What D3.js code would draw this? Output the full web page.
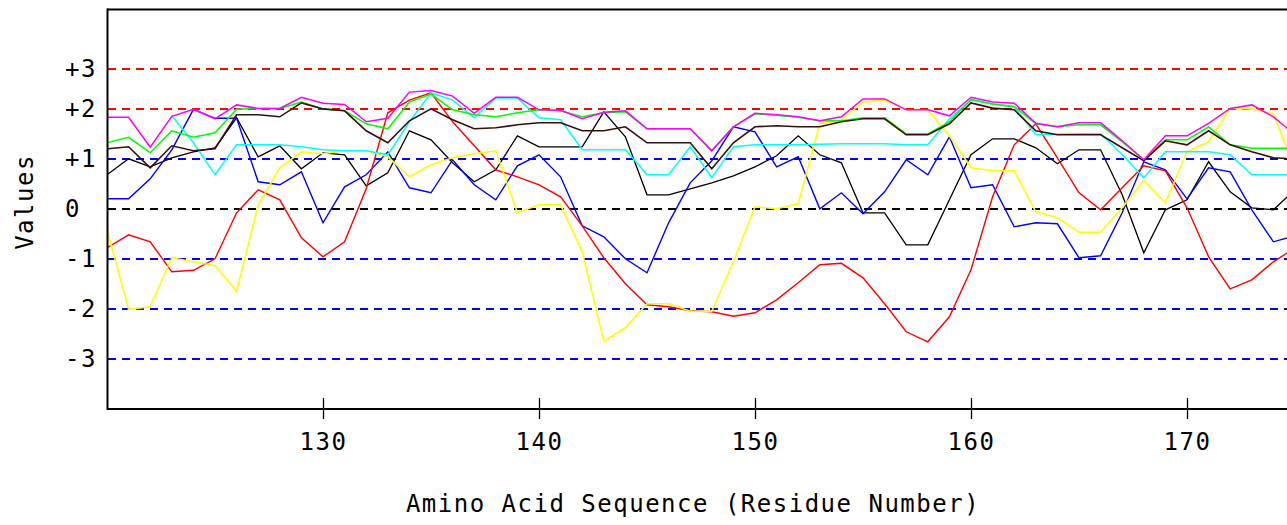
<!DOCTYPE html>
<html><head><meta charset="utf-8">
<script src="https://cdn.jsdelivr.net/npm/d3@7"></script>
<style>html,body{margin:0;padding:0;background:#fff;overflow:hidden}</style>
</head><body><svg id="c" width="1287" height="525"></svg>
<script>
const residues = [120,121,122,123,124,125,126,127,128,129,130,131,132,133,134,135,136,137,138,139,140,141,142,143,144,145,146,147,148,149,150,151,152,153,154,155,156,157,158,159,160,161,162,163,164,165,166,167,168,169,170,171,172,173,174,175];
const xTicks = [130,140,150,160,170];
const gridLevels = [3,2,1,0,-1,-2,-3];
const gridLabels = ["+3","+2","+1","0","-1","-2","-3"];

const red = [-0.77,-0.51,-0.65,-1.25,-1.22,-0.99,-0.07,0.39,0.19,-0.57,-0.95,-0.65,0.41,1.93,2.23,2.41,1.75,1.27,0.79,0.65,0.49,0.25,-0.33,-0.97,-1.49,-1.91,-1.95,-2.03,-2.05,-2.14,-2.07,-1.81,-1.47,-1.11,-1.08,-1.37,-1.89,-2.45,-2.65,-2.15,-1.21,0.25,1.29,1.71,1.03,0.33,-0.01,0.43,0.87,0.77,0.03,-0.95,-1.59,-1.41,-1.05,-0.77];
const yellow = [-0.41,-2.00,-1.95,-0.97,-1.05,-1.13,-1.64,0.09,0.83,1.15,1.11,1.17,1.17,1.05,0.65,0.89,1.03,1.11,1.17,-0.07,0.09,0.09,-0.85,-2.64,-2.37,-1.89,-1.89,-2.04,-2.04,-1.05,0.05,0.01,0.11,1.71,1.79,2.18,2.23,1.99,1.99,1.47,0.83,0.77,0.77,-0.05,-0.17,-0.46,-0.46,0.03,0.57,0.13,1.15,1.35,2.03,2.01,1.91,0.79];
const blue = [0.21,0.21,0.61,1.19,2.0,1.82,1.82,0.55,0.49,0.75,-0.27,0.45,0.69,1.15,0.43,0.33,0.99,0.49,0.19,0.87,1.09,0.65,-0.33,-0.55,-0.99,-1.27,-0.27,0.53,0.97,1.65,1.55,0.85,1.05,0.01,0.33,-0.09,0.35,0.99,0.69,1.45,0.43,0.49,-0.35,-0.27,-0.29,-0.97,-0.93,-0.07,0.95,0.79,0.21,0.83,0.75,-0.01,-0.65,-0.53];
const black = [0.69,1.01,0.85,1.03,1.15,1.23,1.83,1.05,1.27,0.81,1.13,1.09,0.47,0.73,1.57,1.39,0.93,0.55,0.79,1.47,1.25,1.25,1.25,1.95,1.45,0.29,0.29,0.41,0.53,0.67,0.85,1.07,1.47,1.09,0.93,-0.07,-0.07,-0.71,-0.71,0.19,1.09,1.41,1.41,1.23,0.91,1.19,1.19,0.29,-0.87,-0.01,0.19,0.95,0.35,0.03,-0.01,0.39];
const brown = [1.21,1.25,0.83,1.27,1.17,1.21,1.89,1.89,1.85,2.16,2.01,1.97,1.57,1.33,1.77,2.01,1.79,1.61,1.63,1.69,1.73,1.73,1.57,1.57,1.65,1.33,1.33,1.33,0.81,1.33,1.65,1.67,1.65,1.65,1.75,1.81,1.81,1.49,1.49,1.71,2.16,2.03,1.99,1.57,1.49,1.49,1.49,1.23,0.97,1.37,1.29,1.57,1.29,1.15,1.03,1.01];
const green = [1.33,1.44,1.13,1.57,1.44,1.53,2.0,2.02,2.02,2.18,2.01,1.97,1.71,1.61,2.18,2.38,1.99,1.89,1.85,1.93,1.99,1.97,1.85,1.93,1.95,1.61,1.61,1.61,1.17,1.65,1.91,1.88,1.84,1.77,1.77,1.83,1.83,1.51,1.51,1.75,2.25,2.13,2.07,1.71,1.65,1.69,1.69,1.35,0.99,1.39,1.39,1.65,1.29,1.22,1.22,1.22];
const magenta = [1.84,1.84,1.24,1.86,2.0,1.81,2.11,2.02,2.02,2.3,2.15,2.12,1.75,1.82,2.43,2.47,2.33,1.92,2.3,2.3,1.99,1.98,1.81,1.94,1.97,1.61,1.61,1.61,1.17,1.65,1.92,1.89,1.85,1.77,1.85,2.26,2.26,1.99,1.99,1.87,2.3,2.18,2.15,1.72,1.65,1.73,1.73,1.37,0.99,1.47,1.47,1.72,2.02,2.11,1.85,1.49];
const cyan = [null,null,null,1.87,1.33,0.69,1.29,1.29,1.29,1.25,1.19,1.17,1.17,1.09,1.75,2.41,2.23,1.83,2.28,2.28,1.83,1.79,1.19,1.19,1.19,0.69,0.69,1.25,0.63,1.25,1.29,1.29,1.29,1.30,1.31,1.31,1.31,1.29,1.29,1.81,2.23,2.13,2.06,1.49,1.50,1.51,1.51,1.09,0.63,1.15,1.15,1.15,1.09,0.69,0.69,0.69];

const FONT = "'DejaVu Sans Mono', monospace";
const svg = d3.select('#c');
const x = d3.scaleLinear().domain([120,175]).range([107,1295]);
const y = d3.scaleLinear().domain([-4,2,3,4.5]).range([409.3,109.3,69.3,9.3]);

svg.append('defs').append('clipPath').attr('id','clip')
  .append('rect').attr('x',108).attr('y',10).attr('width',1300).attr('height',398);

// grid lines
const gridColor = v => v >= 2 ? '#ff0000' : (v === 0 ? '#000000' : '#0000ff');
svg.append('g').selectAll('line').data(gridLevels).join('line')
  .attr('x1',108).attr('x2',1300)
  .attr('y1',d=>Math.round(y(d))).attr('y2',d=>Math.round(y(d)))
  .attr('stroke',d=>gridColor(d)).attr('stroke-width',2)
  .attr('stroke-dasharray','8,6');

// y labels
svg.append('g').selectAll('text').data(gridLevels).join('text')
  .attr('x',65).attr('y',d=>y(d)+8)
  .attr('font-family',FONT).attr('font-size',24).attr('letter-spacing','1.5px')
  .attr('fill','#000').text((d,i)=>gridLabels[i]);

// series
const series = [
  {v:black, c:'#000000', w:1.3},
  {v:blue, c:'#0000ff', w:1.4},
  {v:red, c:'#ff0000', w:1.4},
  {v:yellow, c:'#ffff00', w:1.6},
  {v:cyan, c:'#00ffff', w:1.5},
  {v:green, c:'#00ff00', w:1.5},
  {v:brown, c:'#3a0d0d', w:1.6},
  {v:magenta, c:'#ff00ff', w:1.5}
];
const line = d3.line().defined(d=>d[1]!==null).x(d=>x(d[0])).y(d=>y(d[1]));
const gl = svg.append('g').attr('clip-path','url(#clip)');
series.forEach(s=>{
  gl.append('path').datum(residues.map((r,i)=>[r,s.v[i]]))
    .attr('d',line).attr('fill','none').attr('stroke',s.c)
    .attr('stroke-width',s.w).attr('stroke-linejoin','miter');
});

// frame
svg.append('line').attr('x1',107).attr('x2',1300).attr('y1',9.5).attr('y2',9.5).attr('stroke','#000').attr('stroke-width',2);
svg.append('line').attr('x1',107).attr('x2',1300).attr('y1',409).attr('y2',409).attr('stroke','#000').attr('stroke-width',2);
svg.append('line').attr('x1',107.5).attr('x2',107.5).attr('y1',8.5).attr('y2',410).attr('stroke','#000').attr('stroke-width',2);

// x axis ticks
const ax = svg.append('g').attr('transform','translate(0,398)')
  .call(d3.axisBottom(x).tickValues(xTicks).tickSize(21).tickPadding(14).tickFormat(d3.format('d')));
ax.select('.domain').remove();
ax.selectAll('line').attr('stroke','#000').attr('stroke-width',1.3);
ax.selectAll('text').attr('font-family',FONT).attr('font-size',24).attr('letter-spacing','1.5px').attr('fill','#000');

// titles
svg.append('text').attr('x',693).attr('y',512).attr('text-anchor','middle')
  .attr('font-family',FONT).attr('font-size',24).attr('letter-spacing','1.5px')
  .text('Amino Acid Sequence (Residue Number)');
svg.append('text').attr('transform','translate(33,202) rotate(-90)').attr('text-anchor','middle')
  .attr('font-family',FONT).attr('font-size',24).attr('letter-spacing','1.5px')
  .text('Values');
</script></body></html>
